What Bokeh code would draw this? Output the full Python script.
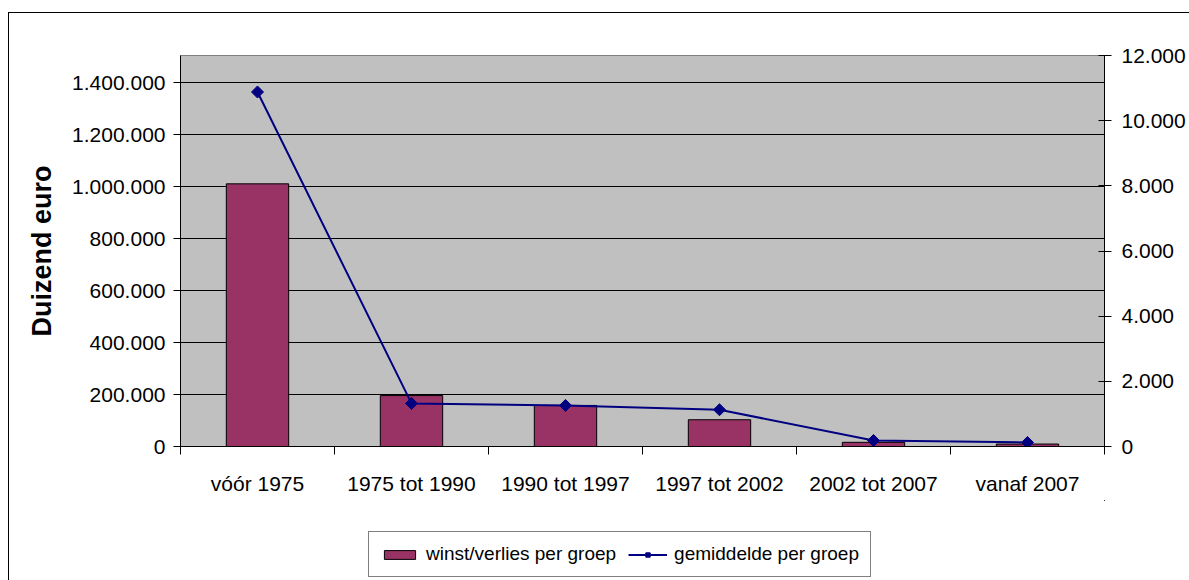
import math
from bokeh.plotting import figure
from bokeh.layouts import column
from bokeh.models import Range1d, LinearAxis, FixedTicker, Legend, LegendItem
from bokeh.embed import file_html
from bokeh.resources import INLINE

# ---- data ----
categories = ["vóór 1975", "1975 tot 1990", "1990 tot 1997",
              "1997 tot 2002", "2002 tot 2007", "vanaf 2007"]
winst = [1011000, 196000, 158000, 103000, 16000, 9500]
gemiddelde = [10880, 1322, 1260, 1128, 184, 123]
left_ticks = [0, 200000, 400000, 600000, 800000, 1000000, 1200000, 1400000]
right_ticks = [0, 2000, 4000, 6000, 8000, 10000, 12000]
left_max = 1505000
right_max = 12000
legend_labels = ["winst/verlies per groep", "gemiddelde per groep"]


def nl(v):
    return f"{v:,}".replace(",", ".")


FONT = "Liberation Sans"
BAR = "#993366"
LINE = "#000080"
xs = list(range(len(categories)))

p = figure(width=1180, height=487, output_backend="svg", toolbar_location=None,
           x_range=Range1d(-0.5, len(categories) - 0.5),
           y_range=Range1d(0, left_max),
           min_border_left=171, min_border_right=85,
           min_border_top=42, min_border_bottom=54)
p.background_fill_color = "#C0C0C0"
p.border_fill_color = "white"
p.outline_line_color = "#808080"
p.extra_y_ranges = {"right": Range1d(0, right_max)}

# x axis
xa = p.xaxis[0]
xa.ticker = FixedTicker(ticks=xs, minor_ticks=[i - 0.5 for i in range(len(categories) + 1)])
xa.major_label_overrides = {i: c for i, c in enumerate(categories)}
xa.major_tick_out = 0
xa.major_tick_in = 0
xa.minor_tick_out = 8
xa.minor_tick_in = 0
xa.minor_tick_line_color = "black"
xa.axis_line_color = "black"
xa.major_label_text_font = FONT
xa.major_label_text_font_size = "21px"
xa.major_label_text_color = "black"
xa.major_label_standoff = 17

# left axis
ya = p.yaxis[0]
ya.ticker = FixedTicker(ticks=left_ticks)
ya.major_label_overrides = {v: nl(v) for v in left_ticks}
ya.major_tick_out = 7
ya.major_tick_in = 0
ya.minor_tick_line_color = None
ya.axis_line_color = "black"
ya.major_label_text_font = FONT
ya.major_label_text_font_size = "21px"
ya.major_label_text_color = "black"
ya.major_label_standoff = 8
ya.axis_label = "Duizend euro"
ya.axis_label_text_font = FONT
ya.axis_label_text_font_style = "bold"
ya.axis_label_text_font_size = "27px"
ya.axis_label_text_color = "black"
ya.axis_label_standoff = 12

# right axis
ra = LinearAxis(y_range_name="right", ticker=FixedTicker(ticks=right_ticks))
ra.major_label_overrides = {v: nl(v) for v in right_ticks}
ra.major_tick_out = 7
ra.major_tick_in = 6
ra.minor_tick_line_color = None
ra.axis_line_color = "black"
ra.major_label_text_font = FONT
ra.major_label_text_font_size = "21px"
ra.major_label_text_color = "black"
ra.major_label_standoff = 10
p.add_layout(ra, "right")

p.xgrid.grid_line_color = None
p.ygrid.ticker = FixedTicker(ticks=left_ticks)
p.ygrid.grid_line_color = "black"
p.ygrid.grid_line_width = 1

p.vbar(x=xs, top=winst, width=0.405, fill_color=BAR, line_color="black", line_width=1)
p.line(xs, gemiddelde, y_range_name="right", line_color=LINE, line_width=2)
p.scatter(xs, gemiddelde, y_range_name="right", marker="square",
          angle=math.pi / 4, size=8.5, fill_color=LINE, line_color=LINE)

# legend strip (separate canvas below the chart; its series lie outside its view)
p2 = figure(width=1180, height=80, output_backend="svg", toolbar_location=None,
            x_range=Range1d(-20, -10), y_range=Range1d(-2, -1),
            x_axis_type=None, y_axis_type=None, min_border=0)
p2.grid.visible = False
p2.outline_line_color = None
p2.background_fill_color = "white"
p2.border_fill_color = "white"
lb = p2.vbar(x=xs, top=winst, width=0.405, fill_color=BAR, line_color="black", line_width=1)
ll = p2.line(xs, gemiddelde, line_color=LINE, line_width=2)
lp = p2.scatter(xs, gemiddelde, marker="square", angle=math.pi / 4, size=9,
                fill_color=LINE, line_color=LINE)

legend = Legend(items=[LegendItem(label=legend_labels[0], renderers=[lb]),
                       LegendItem(label=legend_labels[1], renderers=[ll, lp])],
                orientation="horizontal", location=(188, 3))
legend.border_line_color = "black"
legend.border_line_width = 1
legend.background_fill_color = "white"
legend.background_fill_alpha = 1
legend.label_text_font = FONT
legend.label_text_font_size = "19px"
legend.label_text_color = "black"
legend.glyph_width = 39
legend.glyph_height = 11
legend.label_standoff = 7
legend.spacing = 12
legend.padding = 11
legend.margin = 0
p2.add_layout(legend)

layout = column(p, p2, spacing=0, margin=(12, 0, 0, 8),
                styles={"border-left": "1px solid black", "border-top": "1px solid black"})

open("out.html", "w").write(file_html(layout, INLINE))
